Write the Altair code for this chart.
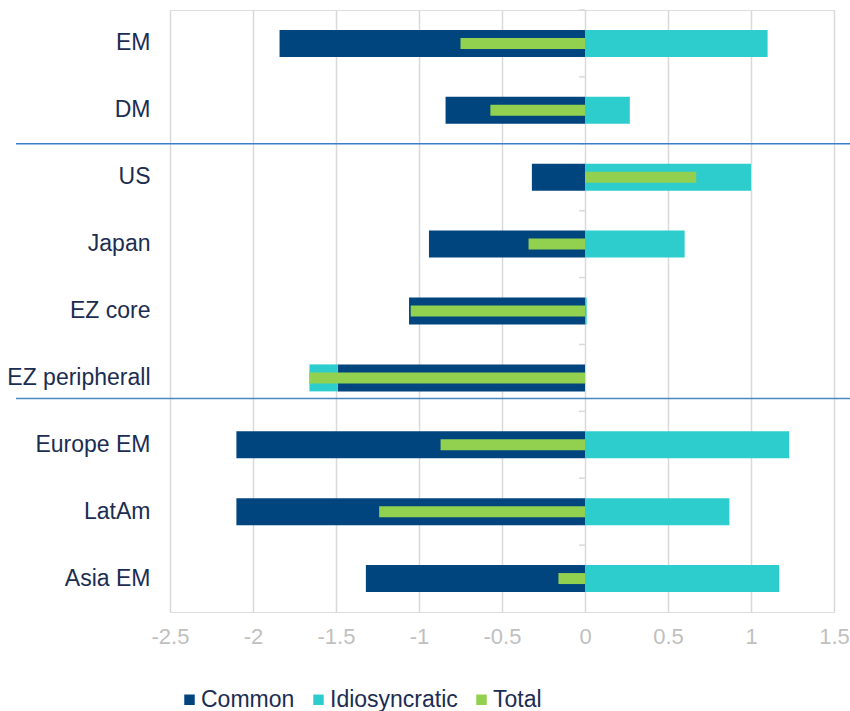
import altair as alt
import pandas as pd

categories = ["EM", "DM", "US", "Japan", "EZ core", "EZ peripherall", "Europe EM", "LatAm", "Asia EM"]
common = [-1.84, -0.84, -0.32, -0.94, -1.06, -1.49, -2.10, -2.10, -1.32]
idiosyncratic = [1.10, 0.27, 1.00, 0.60, 0.01, -0.17, 1.23, 0.87, 1.17]
total = [-0.75, -0.57, 0.67, -0.34, -1.05, -1.66, -0.87, -1.24, -0.16]
series = ["Common", "Idiosyncratic", "Total"]
colors = ["#00457e", "#2ecdcd", "#92d050"]
x_ticks = [-2.5, -2, -1.5, -1, -0.5, 0, 0.5, 1, 1.5]

# stacked segments (negatives and positives stacked separately)
rows = []
for c, cv, iv in zip(categories, common, idiosyncratic):
    rows.append({"cat": c, "series": "Common", "start": 0.0, "end": cv})
    base = cv if (iv < 0) == (cv < 0) else 0.0
    rows.append({"cat": c, "series": "Idiosyncratic", "start": base, "end": base + iv})
stack_df = pd.DataFrame(rows)
total_df = pd.DataFrame({"cat": categories, "series": "Total", "start": 0.0, "end": total})
tick_df = pd.DataFrame({"cat": categories, "a": -0.036, "b": 0.0})

font = "Liberation Sans"
navy = "#1b2d52"

y_enc = alt.Y("cat:N", sort=categories, title=None,
              scale=alt.Scale(paddingInner=0, paddingOuter=0),
              axis=alt.Axis(domain=False, ticks=False, grid=False, labelFontSize=23,
                            labelColor=navy, labelFont=font, labelPadding=20))
x_scale = alt.Scale(domain=[-2.5, 1.5], nice=False)
color_enc = alt.Color("series:N", scale=alt.Scale(domain=series, range=colors),
                      title=None,
                      legend=alt.Legend(orient="none", legendX=8, legendY=678,
                                        direction="horizontal", symbolType="square",
                                        symbolSize=110, symbolStrokeWidth=0,
                                        labelFontSize=23, labelColor=navy, labelFont=font,
                                        labelOffset=0, columnPadding=12, padding=0))

bars = alt.Chart(stack_df).mark_bar(size=27).encode(
    y=y_enc,
    x=alt.X("start:Q", scale=x_scale, title=None,
            axis=alt.Axis(values=x_ticks, domain=False, ticks=False, grid=True,
                          gridColor="#d9d9d9", gridWidth=1.5, labelFontSize=22,
                          labelColor="#bfbfbf", labelFont=font, labelPadding=14,
                          labelFlush=False, labelExpr="datum.value + ''")),
    x2="end:Q",
    color=color_enc,
)

totals = alt.Chart(total_df).mark_bar(size=11).encode(
    y=alt.Y("cat:N", sort=categories),
    x=alt.X("start:Q", scale=x_scale),
    x2="end:Q",
    color=color_enc,
)

ticks = alt.Chart(tick_df).mark_rule(color="#d9d9d9", strokeWidth=1.5).encode(
    y=alt.Y("cat:N", sort=categories, bandPosition=0),
    x=alt.X("a:Q", scale=x_scale),
    x2="b:Q",
)

sep1 = alt.Chart(pd.DataFrame({"cat": ["US"]})).mark_rule(
    color="#3a7fc6", strokeWidth=1.5, clip=False).encode(
    y=alt.Y("cat:N", sort=categories, bandPosition=0),
    x=alt.value(-154),
    x2=alt.value(680),
)

sep2 = alt.Chart(pd.DataFrame({"cat": ["EZ peripherall"]})).mark_rule(
    color="#4a88c2", strokeWidth=1.5, clip=False).encode(
    y=alt.Y("cat:N", sort=categories, bandPosition=0.81),
    x=alt.value(-154),
    x2=alt.value(680),
)

chart = alt.layer(ticks, bars, totals, sep1, sep2).properties(
    width=664, height=602,
    autosize=alt.AutoSizeParams(type="none"),
    padding={"left": 170, "top": 10, "right": 16, "bottom": 99},
).configure_view(stroke=None).configure(background="white")

chart.save("out.html", embed_options={"renderer": "svg", "actions": False})
